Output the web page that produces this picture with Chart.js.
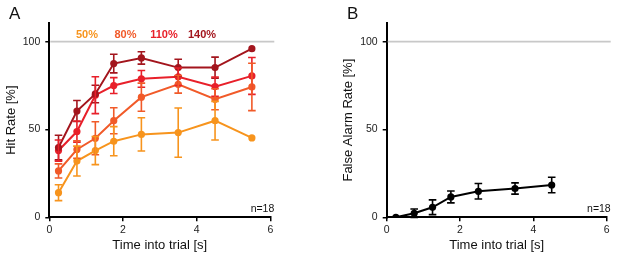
<html>
<head>
<title>Hit rate / false alarm rate</title>
<script src="https://cdn.jsdelivr.net/npm/chart.js@4.4.0/dist/chart.umd.min.js"></script>
<style>
  body { margin: 0; background: #fff; }
  .panel { position: absolute; top: 0; height: 260px; }
  #boxA { left: 0; width: 310px; }
  #boxB { left: 310px; width: 307px; }
</style>
</head>
<body>
<div id="boxA" class="panel"><canvas id="chartA"></canvas></div>
<div id="boxB" class="panel"><canvas id="chartB"></canvas></div>
<script>
// time bins (s)
const times = [0.25, 0.75, 1.25, 1.75, 2.5, 3.5, 4.5, 5.5];

// panel A: hit rate [%] per contrast level, mean and error
const levels = ['50%', '80%', '110%', '140%'];
const hit50  = [14, 32, 38, 43.3, 47.2, 48.2, 55, 45.2];
const err50  = [4.5, 8.5, 8, 8.3, 9.5, 14, 11, 0];
const hit80  = [26.4, 38.6, 45, 55, 68.4, 75.7, 67.2, 74.2];
const err80  = [4, 5, 9.4, 7.4, 8, 5, 6, 13.5];
const hit110 = [38, 48.8, 69.5, 75, 78.8, 80, 74.4, 80.5];
const err110 = [6, 6, 10.5, 4.5, 4.8, 5, 5.5, 10.5];
const hit140 = [39.7, 60.5, 70.2, 87.5, 90.7, 85.2, 85.2, 96];
const err140 = [7, 6, 5, 5.3, 3.5, 4.8, 6, 0];

// panel B: false alarm rate [%]
const faTimes = [0.25, 0.75, 1.25, 1.75, 2.5, 3.5, 4.5];
const faRate  = [0, 2.3, 5.7, 11.6, 14.8, 16.4, 18.4];
const faErr   = [0, 2.4, 4.2, 3.4, 4.4, 3.2, 4.4];

const xTicks = [0, 2, 4, 6];
const yTicks = [0, 50, 100];

const colors = ['#f7941d', '#f15a29', '#e8202a', '#a3151d'];

Chart.defaults.font.family = "'Liberation Sans', Arial, sans-serif";
Chart.defaults.color = '#222';

function pts(xs, ys) {
  return xs.map((x, i) => ({ x: x, y: ys[i] }));
}

function series(label, xs, ys, errs, color) {
  return {
    label: label,
    data: pts(xs, ys),
    errors: errs,
    borderColor: color,
    backgroundColor: color,
    borderWidth: 2,
    pointRadius: 3.6,
    pointBorderWidth: 0,
    pointHoverRadius: 3.6,
    tension: 0
  };
}

// vertical error bars with caps, through the chart's scales
const errorBars = {
  id: 'errorBars',
  afterDatasetsDraw(chart) {
    const ctx = chart.ctx;
    const xs = chart.scales.x, ys = chart.scales.y;
    chart.data.datasets.forEach(ds => {
      if (!ds.errors) return;
      ctx.save();
      ctx.strokeStyle = ds.borderColor;
      ctx.lineWidth = 1.6;
      ds.data.forEach((p, i) => {
        const e = ds.errors[i];
        if (!e) return;
        const px = xs.getPixelForValue(p.x);
        const top = ys.getPixelForValue(p.y + e);
        const bot = ys.getPixelForValue(p.y - e);
        ctx.beginPath();
        ctx.moveTo(px, top); ctx.lineTo(px, bot);
        ctx.moveTo(px - 3.8, top); ctx.lineTo(px + 3.8, top);
        ctx.moveTo(px - 3.8, bot); ctx.lineTo(px + 3.8, bot);
        ctx.stroke();
      });
      ctx.restore();
    });
  }
};

// grey reference line at 100 %
const refLine = {
  id: 'refLine',
  beforeDatasetsDraw(chart) {
    const ctx = chart.ctx, a = chart.chartArea;
    const y = chart.scales.y.getPixelForValue(100);
    ctx.save();
    ctx.strokeStyle = '#c8c8c8';
    ctx.lineWidth = 1.6;
    ctx.beginPath();
    ctx.moveTo(a.left + 1, y);
    ctx.lineTo(a.right + 4, y);
    ctx.stroke();
    ctx.restore();
  }
};

// panel letter, n=18, and level labels
function texts(letter, letterX, labels) {
  return {
    id: 'texts',
    afterDraw(chart) {
      const ctx = chart.ctx, a = chart.chartArea;
      ctx.save();
      ctx.fillStyle = '#111';
      ctx.font = "17px 'Liberation Sans', Arial, sans-serif";
      ctx.textAlign = 'left';
      ctx.textBaseline = 'alphabetic';
      ctx.fillText(letter, letterX, 19);
      ctx.font = "10.5px 'Liberation Sans', Arial, sans-serif";
      ctx.textAlign = 'right';
      ctx.fillText('n=18', a.right + 4, a.bottom - 5);
      if (labels) {
        ctx.font = "bold 11px 'Liberation Sans', Arial, sans-serif";
        ctx.textAlign = 'center';
        ctx.textBaseline = 'middle';
        const cx = [87, 125.5, 164, 202];
        labels.forEach((t, i) => {
          ctx.fillStyle = colors[i];
          ctx.fillText(t, cx[i], 34.5);
        });
      }
      ctx.restore();
    }
  };
}

function options(yTitle, padLeft, padRight, yWidth) {
  return {
    responsive: true,
    maintainAspectRatio: false,
    animation: false,
    layout: { padding: { left: padLeft, right: padRight, top: 23, bottom: 3 } },
    plugins: { legend: { display: false }, tooltip: { enabled: false } },
    scales: {
      x: {
        type: 'linear', min: 0, max: 6,
        afterBuildTicks: s => { s.ticks = xTicks.map(v => ({ value: v })); },
        afterFit: s => { s.height = 39.7; },
        border: { color: '#000', width: 2 },
        grid: { drawOnChartArea: false, color: '#000', lineWidth: 1.5, tickLength: 4 },
        ticks: { font: { size: 10.5 }, padding: 3, maxRotation: 0 },
        title: { display: true, text: 'Time into trial [s]', font: { size: 13 }, color: '#111', padding: { top: 0, bottom: 4 } }
      },
      y: {
        min: 0, max: 110.6,
        afterBuildTicks: s => { s.ticks = yTicks.map(v => ({ value: v })); },
        afterFit: s => { s.width = yWidth; },
        border: { color: '#000', width: 2 },
        grid: { drawOnChartArea: false, color: '#000', lineWidth: 1.5, tickLength: 4 },
        ticks: { font: { size: 10.5 }, padding: 5 },
        title: { display: true, text: yTitle, font: { size: 13 }, color: '#111', padding: { top: 4, bottom: 0 } }
      }
    }
  };
}

new Chart(document.getElementById('chartA'), {
  type: 'line',
  data: {
    datasets: [
      series(levels[3], times, hit140, err140, colors[3]),
      series(levels[2], times, hit110, err110, colors[2]),
      series(levels[1], times, hit80, err80, colors[1]),
      series(levels[0], times, hit50, err50, colors[0])
    ]
  },
  options: options('Hit Rate [%]', 0, 39.7, 49.3),
  plugins: [refLine, errorBars, texts('A', 9, levels)]
});

new Chart(document.getElementById('chartB'), {
  type: 'line',
  data: {
    datasets: [series('False alarm', faTimes, faRate, faErr, '#000')]
  },
  options: options('False Alarm Rate [%]', 26.2, 10.3, 50.5),
  plugins: [refLine, errorBars, texts('B', 37, null)]
});
</script>
</body>
</html>
